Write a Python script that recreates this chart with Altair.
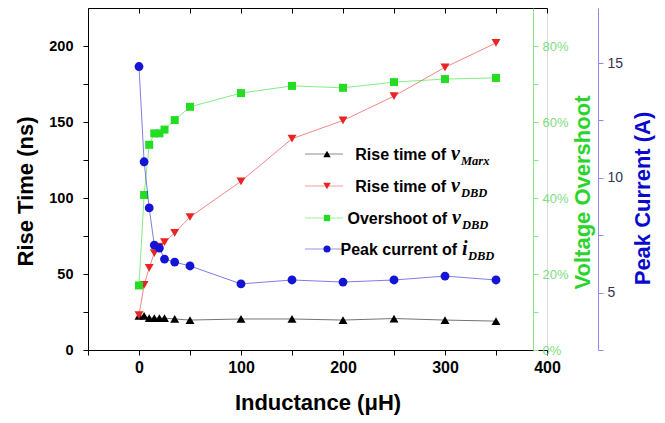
import altair as alt
import pandas as pd

# ---- data ----
inductance = [0, 5, 10, 15, 20, 25, 35, 50, 100, 150, 200, 250, 300, 350]
rise_marx = [22.5, 22.4, 21.0, 21.0, 21.0, 21.0, 20.4, 19.7, 20.4, 20.4, 19.7, 20.7, 19.7, 19.0]
rise_dbd = [23.0, 42.8, 54.0, 63.8, 68.0, 71.0, 77.0, 87.5, 111.0, 139.0, 151.0, 167.0, 186.0, 202.0]
overshoot = [0.17, 0.408, 0.54, 0.57, 0.57, 0.58, 0.605, 0.64, 0.676, 0.695, 0.69, 0.705, 0.713, 0.716]
peak_current = [14.85, 10.7, 8.69, 7.07, 6.94, 6.46, 6.33, 6.16, 5.38, 5.55, 5.46, 5.55, 5.72, 5.55]

x_ticks = [-50, 0, 50, 100, 150, 200, 250, 300, 350, 400]
rise_ticks = [0, 25, 50, 75, 100, 125, 150, 175, 200]
over_ticks = [0.0, 0.1, 0.2, 0.3, 0.4, 0.5, 0.6, 0.7, 0.8]
peak_ticks = [2.5, 5, 7.5, 10, 12.5, 15]

legend_main = ["Rise time of", "Rise time of", "Overshoot of", "Peak current of"]
legend_sym = ["v", "v", "v", "i"]
legend_sub = ["Marx", "DBD", "DBD", "DBD"]

BLACK = "#000000"
RED = "#e82424"
GREEN = "#22dd22"
BLUE = "#1414d4"

W, H = 459, 342
SANS = "Liberation Sans"
SERIF = "Liberation Serif"

rise_df = pd.DataFrame({
    "L": inductance + inductance,
    "t": rise_marx + rise_dbd,
    "series": ["Marx"] * len(inductance) + ["DBD"] * len(inductance),
})
over_df = pd.DataFrame({"L": inductance, "o": overshoot})
peak_df = pd.DataFrame({"L": inductance, "p": peak_current})

xscale = alt.Scale(domain=[-50, 400], nice=False, zero=False)

x_bottom = alt.X(
    "L:Q", scale=xscale,
    axis=alt.Axis(
        values=x_ticks,
        labelExpr="datum.value >= 0 && datum.value % 100 == 0 ? datum.label : ''",
        labelFlush=False,
        title="Inductance (μH)", titleFont=SANS, titleFontSize=22, titleFontWeight="bold",
        titleColor=BLACK, titleY=52, titleBaseline="middle",
        labelFont=SANS, labelFontSize=16, labelFontWeight="bold", labelColor=BLACK,
        labelPadding=4, tickSize=5, tickColor=BLACK, domainColor=BLACK, grid=False,
    ),
)
x_top = alt.X(
    "L:Q", scale=xscale,
    axis=alt.Axis(orient="bottom", offset=-H, values=x_ticks, labels=False, title="",
                  tickSize=5, tickColor=BLACK, domainColor=BLACK, grid=False),
)
x_none = alt.X("L:Q", scale=xscale, axis=None)

y_rise = alt.Y(
    "t:Q", scale=alt.Scale(domain=[0, 225], nice=False),
    axis=alt.Axis(
        values=rise_ticks, labelExpr="datum.value % 50 == 0 ? datum.label : ''",
        labelFlush=False,
        title="Rise Time (ns)", titleFont=SANS, titleFontSize=22, titleFontWeight="bold",
        titleColor=BLACK, titleAngle=270, titleX=-63, titleY=183, titleAlign="center",
        titleBaseline="middle",
        labelFont=SANS, labelFontSize=14.5, labelFontWeight="bold", labelColor=BLACK,
        labelPadding=10, tickSize=5, tickColor=BLACK, domainColor=BLACK, grid=False,
    ),
)

series_color = alt.Color("series:N", scale=alt.Scale(domain=["Marx", "DBD"], range=[BLACK, RED]), legend=None)
series_shape = alt.Shape("series:N", scale=alt.Scale(domain=["Marx", "DBD"], range=["triangle-up", "triangle-down"]), legend=None)

rise_base = alt.Chart(rise_df)
rise_lines = rise_base.mark_line(strokeWidth=1, opacity=0.55).encode(
    x=x_bottom, y=y_rise, color=series_color)
rise_pts = rise_base.mark_point(filled=True, size=80, opacity=1).encode(
    x=x_bottom, y=y_rise, color=series_color, shape=series_shape, order=alt.Order("series:N", sort="descending"))
rise_layer = alt.layer(rise_lines, rise_pts)

y_over = alt.Y(
    "o:Q", scale=alt.Scale(domain=[0, 0.9], nice=False),
    axis=alt.Axis(
        orient="right", offset=-14, values=over_ticks, format=".0%",
        labelExpr="round(datum.value * 100) % 20 == 0 ? datum.label : ''",
        labelFlush=False,
        title="Voltage Overshoot", titleFont=SANS, titleFontSize=22, titleFontWeight="bold",
        titleColor="#2bd42b", titleAngle=270, titleX=49, titleY=184, titleAlign="center",
        titleBaseline="middle",
        labelFont=SANS, labelFontSize=13, labelColor="#80dc80", labelPadding=4,
        tickSize=5, tickColor="#88e888", domainColor="#88e888", grid=False,
    ),
)
over_base = alt.Chart(over_df)
over_layer = alt.layer(
    over_base.mark_line(strokeWidth=1, color=GREEN, opacity=0.55).encode(x=x_top, y=y_over),
    over_base.mark_point(filled=True, shape="square", size=64, color=GREEN, opacity=1).encode(x=x_top, y=y_over),
)

y_peak = alt.Y(
    "p:Q", scale=alt.Scale(domain=[2.5, 17.4], nice=False, zero=False),
    axis=alt.Axis(
        orient="right", offset=51, values=peak_ticks,
        labelExpr="datum.value % 5 == 0 ? datum.label : ''",
        labelFlush=False,
        title="Peak Current (A)", titleFont=SANS, titleFontSize=22, titleFontWeight="bold",
        titleColor="#0a0acc", titleAngle=270, titleX=44, titleY=190, titleAlign="center",
        titleBaseline="middle",
        labelFont=SANS, labelFontSize=14, labelColor="#333355", labelPadding=4,
        tickSize=5, tickColor="#8c8cf0", domainColor="#8c8cf0", grid=False,
    ),
)
peak_base = alt.Chart(peak_df)
peak_layer = alt.layer(
    peak_base.mark_line(strokeWidth=1, color=BLUE, opacity=0.55).encode(x=x_none, y=y_peak),
    peak_base.mark_point(filled=True, shape="circle", size=78, color=BLUE, opacity=1).encode(x=x_none, y=y_peak),
)

# ---- custom legend (rich text with italic symbol and subscript) ----
one = pd.DataFrame({"a": [0]})
leg_colors = [BLACK, RED, GREEN, BLUE]
leg_shapes = ["triangle-up", "triangle-down", "square", "circle"]
leg_sizes = [55, 55, 40, 50]
row_y = [146, 178, 210, 241]
text_end = [358, 358, 359, 369]
legend_layers = []
for i in range(4):
    cy = row_y[i]
    legend_layers.append(alt.Chart(one).mark_rule(color=leg_colors[i], opacity=0.45, strokeWidth=1).encode(
        x=alt.value(217), x2=alt.value(255), y=alt.value(cy)))
    legend_layers.append(alt.Chart(one).mark_point(filled=True, shape=leg_shapes[i], size=leg_sizes[i],
                                                    color=leg_colors[i], opacity=1).encode(
        x=alt.value(239), y=alt.value(cy)))
    legend_layers.append(alt.Chart(one).mark_text(text=legend_main[i], font=SANS, fontSize=16, fontWeight="bold",
                                                   align="right", baseline="alphabetic", color=BLACK).encode(
        x=alt.value(text_end[i]), y=alt.value(cy + 5.5)))
    legend_layers.append(alt.Chart(one).mark_text(text=legend_sym[i], font=SERIF, fontSize=20, fontWeight="bold",
                                                   fontStyle="italic", align="left", baseline="alphabetic",
                                                   color=BLACK).encode(
        x=alt.value(text_end[i] + 5), y=alt.value(cy + 5.5)))
    legend_layers.append(alt.Chart(one).mark_text(text=legend_sub[i], font=SERIF, fontSize=12.5, fontWeight="bold",
                                                   fontStyle="italic", align="left", baseline="alphabetic",
                                                   color=BLACK).encode(
        x=alt.value(text_end[i] + (15 if legend_sym[i] == "v" else 11)), y=alt.value(cy + 11)))

chart = alt.layer(rise_layer, over_layer, peak_layer, *legend_layers).resolve_scale(
    y="independent"
).resolve_axis(
    x="independent", y="independent"
).properties(
    width=W, height=H,
    padding={"left": 80, "top": 0, "right": 110, "bottom": 65},
    autosize=alt.AutoSizeParams(type="none"),
).configure_view(stroke=None).configure(background="white")

chart.save("out.html", embed_options={"renderer": "svg", "actions": False})
